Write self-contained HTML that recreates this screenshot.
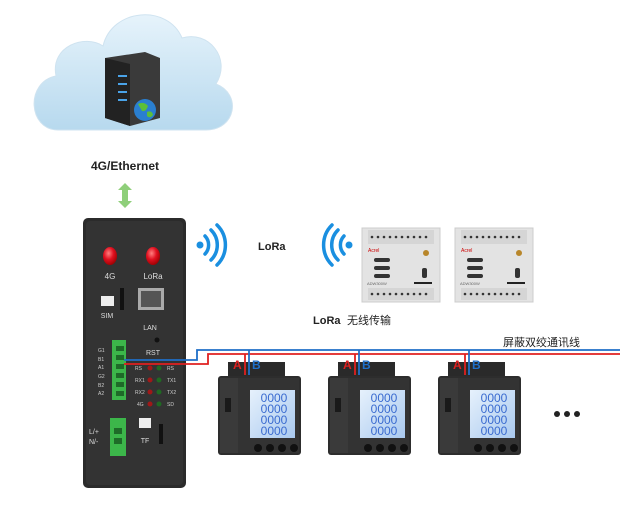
<!DOCTYPE html>
<html><head><meta charset="utf-8"><style>
html,body{margin:0;padding:0;background:#fff;width:642px;height:519px;overflow:hidden}
svg{display:block}
text{font-family:"Liberation Sans","Noto Sans CJK SC",sans-serif}
</style></head><body>
<svg width="642" height="519" viewBox="0 0 642 519" xmlns="http://www.w3.org/2000/svg">
<defs>
<linearGradient id="cl" x1="0" y1="0" x2="0" y2="1"><stop offset="0" stop-color="#e6f3fb"/><stop offset="1" stop-color="#b7d9ee"/></linearGradient>
<linearGradient id="lcd" x1="0" y1="0" x2="1" y2="1"><stop offset="0" stop-color="#e6f1fc"/><stop offset="1" stop-color="#a9c9ef"/></linearGradient>
<radialGradient id="ant" cx=".4" cy=".35" r=".7"><stop offset="0" stop-color="#ff8080"/><stop offset=".5" stop-color="#e01020"/><stop offset="1" stop-color="#900"/></radialGradient>
<g id="meter">
 <rect x="10" y="0" width="57" height="18" fill="#2a2a2a"/>
 <rect x="0" y="14" width="83" height="79" rx="3" fill="#2d2d2d"/>
 <rect x="2" y="16" width="18" height="75" fill="#3a3a3a"/>
 <rect x="20" y="16" width="61" height="75" fill="#333"/>
 <rect x="7" y="36" width="6" height="14" fill="#1a1a1a"/>
 <rect x="32" y="28" width="45" height="48" fill="url(#lcd)"/>
 <g font-size="12" fill="#3a6bd0" text-anchor="middle" font-family="Liberation Mono,monospace">
 <text x="56" y="40">0000</text><text x="56" y="51">0000</text><text x="56" y="62">0000</text><text x="56" y="73">0000</text></g>
 <circle cx="40" cy="86" r="4" fill="#111"/><circle cx="52" cy="86" r="4" fill="#111"/><circle cx="64" cy="86" r="4" fill="#111"/><circle cx="76" cy="86" r="4" fill="#111"/>
</g>
<g id="mod">
 <rect x="0" y="0" width="78" height="74" fill="#e3e3e3" stroke="#ccc"/>
 <rect x="6" y="2" width="66" height="14" fill="#d5d5d5"/>
 <rect x="6" y="60" width="66" height="12" fill="#d5d5d5"/>
 <g fill="#333"><circle cx="10" cy="9" r="1.3"/><circle cx="16" cy="9" r="1.3"/><circle cx="22" cy="9" r="1.3"/><circle cx="28" cy="9" r="1.3"/><circle cx="34" cy="9" r="1.3"/><circle cx="40" cy="9" r="1.3"/><circle cx="46" cy="9" r="1.3"/><circle cx="52" cy="9" r="1.3"/><circle cx="58" cy="9" r="1.3"/><circle cx="64" cy="9" r="1.3"/>
 <circle cx="10" cy="66" r="1.3"/><circle cx="16" cy="66" r="1.3"/><circle cx="22" cy="66" r="1.3"/><circle cx="28" cy="66" r="1.3"/><circle cx="34" cy="66" r="1.3"/><circle cx="40" cy="66" r="1.3"/><circle cx="46" cy="66" r="1.3"/><circle cx="52" cy="66" r="1.3"/><circle cx="58" cy="66" r="1.3"/><circle cx="64" cy="66" r="1.3"/></g>
 <rect x="12" y="30" width="16" height="4" rx="2" fill="#333"/><rect x="12" y="38" width="16" height="4" rx="2" fill="#333"/><rect x="12" y="46" width="16" height="4" rx="2" fill="#333"/>
 <circle cx="64" cy="25" r="3" fill="#b8862a"/><rect x="60" y="40" width="5" height="10" rx="2" fill="#333"/><rect x="52" y="54" width="18" height="2" fill="#222"/>
 <text x="6" y="24" font-size="5" fill="#c00">Acrel</text><text x="5" y="57" font-size="4" fill="#666">ADW300W</text>
</g>
<g id="wifi" fill="none" stroke="#1a8fe0" stroke-width="3.5" stroke-linecap="round">
 <path d="M8,-9 A13,13 0 0 1 8,9"/><path d="M14,-15 A21,21 0 0 1 14,15"/><path d="M20,-20 A28,28 0 0 1 20,20"/>
</g>
</defs>

<!-- cloud -->
<path d="M58,130 C28,130 25,82 56,76 C50,46 85,34 103,46 C112,8 168,4 182,38 C208,30 232,58 216,84 C242,94 236,130 206,130 Z" fill="url(#cl)" stroke="#cfe3f0"/>
<!-- server -->
<path d="M105,58 L145,52 L160,58 L160,118 L130,126 L105,118 Z" fill="#3a3a3a"/>
<path d="M105,58 L130,64 L130,126 L105,118 Z" fill="#222"/>
<g fill="#4aa3e8"><rect x="118" y="75" width="9" height="2"/><rect x="118" y="83" width="9" height="2"/><rect x="118" y="91" width="9" height="2"/><rect x="118" y="99" width="9" height="2"/></g>
<circle cx="145" cy="110" r="11" fill="#2a7fd0"/><path d="M138,104 q6,-3 10,2 q-2,6 -6,5 z M147,112 q5,-2 6,3 q-3,4 -6,1 z" fill="#5cbf3a"/>
<text x="125" y="170" font-size="12" font-weight="bold" text-anchor="middle" fill="#222">4G/Ethernet</text>
<path d="M125,183 l-7,7 h4 v11 h-4 l7,7 l7,-7 h-4 v-11 h4 z" fill="#8fcf7a"/>

<!-- gateway -->
<rect x="83" y="218" width="103" height="270" rx="5" fill="#2b2b2b"/>
<rect x="86" y="221" width="97" height="264" rx="4" fill="#333"/>
<ellipse cx="110" cy="256" rx="7" ry="9" fill="url(#ant)"/><ellipse cx="153" cy="256" rx="7" ry="9" fill="url(#ant)"/>
<text x="110" y="279" font-size="8" fill="#ddd" text-anchor="middle">4G</text><text x="153" y="279" font-size="8" fill="#ddd" text-anchor="middle">LoRa</text>
<rect x="101" y="296" width="13" height="10" fill="#eee"/><text x="107" y="318" font-size="7" fill="#ddd" text-anchor="middle">SIM</text>
<rect x="120" y="288" width="4" height="22" fill="#111"/>
<rect x="138" y="288" width="26" height="22" fill="#aaa"/><rect x="141" y="291" width="20" height="16" fill="#555"/>
<text x="150" y="330" font-size="7" fill="#ddd" text-anchor="middle">LAN</text>
<circle cx="157" cy="340" r="2.5" fill="#111"/><text x="153" y="355" font-size="7" fill="#ddd" text-anchor="middle">RST</text>
<rect x="112" y="340" width="14" height="60" fill="#3cb64a"/>
<g fill="#1e6b28"><rect x="116" y="346" width="8" height="5"/><rect x="116" y="355" width="8" height="5"/><rect x="116" y="364" width="8" height="5"/><rect x="116" y="373" width="8" height="5"/><rect x="116" y="382" width="8" height="5"/><rect x="116" y="391" width="8" height="5"/></g>
<g font-size="5" fill="#ccc"><text x="98" y="352">G1</text><text x="98" y="361">B1</text><text x="98" y="369">A1</text><text x="98" y="378">G2</text><text x="98" y="387">B2</text><text x="98" y="395">A2</text>
<text x="135" y="370">RS</text><text x="167" y="370">RS</text><text x="135" y="382">RX1</text><text x="167" y="382">TX1</text><text x="135" y="394">RX2</text><text x="167" y="394">TX2</text><text x="137" y="406">4G</text><text x="167" y="406">SD</text></g>
<g fill="#a01818"><circle cx="150" cy="368" r="2.5"/><circle cx="150" cy="380" r="2.5"/><circle cx="150" cy="392" r="2.5"/><circle cx="150" cy="404" r="2.5"/></g>
<g fill="#1f6a22"><circle cx="159" cy="368" r="2.5"/><circle cx="159" cy="380" r="2.5"/><circle cx="159" cy="392" r="2.5"/><circle cx="159" cy="404" r="2.5"/></g>
<rect x="110" y="418" width="16" height="38" fill="#3cb64a"/><rect x="114" y="428" width="8" height="6" fill="#1e6b28"/><rect x="114" y="438" width="8" height="6" fill="#1e6b28"/>
<text x="89" y="434" font-size="7" fill="#ddd">L/+</text><text x="89" y="444" font-size="7" fill="#ddd">N/-</text>
<rect x="139" y="418" width="12" height="10" fill="#eee"/><text x="145" y="443" font-size="7" fill="#ddd" text-anchor="middle">TF</text>
<rect x="159" y="424" width="4" height="20" fill="#111"/>

<!-- wireless -->
<circle cx="200" cy="245" r="3.5" fill="#1a8fe0"/><use href="#wifi" x="197" y="245"/>
<text x="258" y="250" font-size="11" font-weight="bold" fill="#222">LoRa</text>
<circle cx="349" cy="245" r="3.5" fill="#1a8fe0"/><use href="#wifi" x="352" y="245" transform="translate(704,0) scale(-1,1)"/>
<use href="#mod" x="362" y="228"/><use href="#mod" x="455" y="228"/>
<text x="313" y="324" font-size="11" font-weight="bold" fill="#222">LoRa</text><text x="347" y="324" font-size="11" fill="#222">无线传输</text>

<!-- wires -->
<polyline points="124,360 197,360 197,350 620,350" fill="none" stroke="#1f6fc8" stroke-width="1.8"/>
<polyline points="124,364 208,364 208,354 620,354" fill="none" stroke="#e02020" stroke-width="1.8"/>
<text x="503" y="346" font-size="11" fill="#222">屏蔽双绞通讯线</text>

<use href="#meter" x="218" y="362"/><use href="#meter" x="328" y="362"/><use href="#meter" x="438" y="362"/>
<g stroke-width="1.8" fill="none">
<path d="M245,354 V375" stroke="#e02020"/><path d="M249,350 V375" stroke="#1f6fc8"/>
<path d="M355,354 V375" stroke="#e02020"/><path d="M359,350 V375" stroke="#1f6fc8"/>
<path d="M465,354 V375" stroke="#e02020"/><path d="M469,350 V375" stroke="#1f6fc8"/>
</g>
<g font-size="12" font-weight="bold"><text x="233" y="369" fill="#e02020">A</text><text x="252" y="369" fill="#1f6fc8">B</text>
<text x="343" y="369" fill="#e02020">A</text><text x="362" y="369" fill="#1f6fc8">B</text>
<text x="453" y="369" fill="#e02020">A</text><text x="472" y="369" fill="#1f6fc8">B</text></g>
<g fill="#222"><circle cx="557" cy="414" r="3"/><circle cx="567" cy="414" r="3"/><circle cx="577" cy="414" r="3"/></g>
</svg>
</body></html>
